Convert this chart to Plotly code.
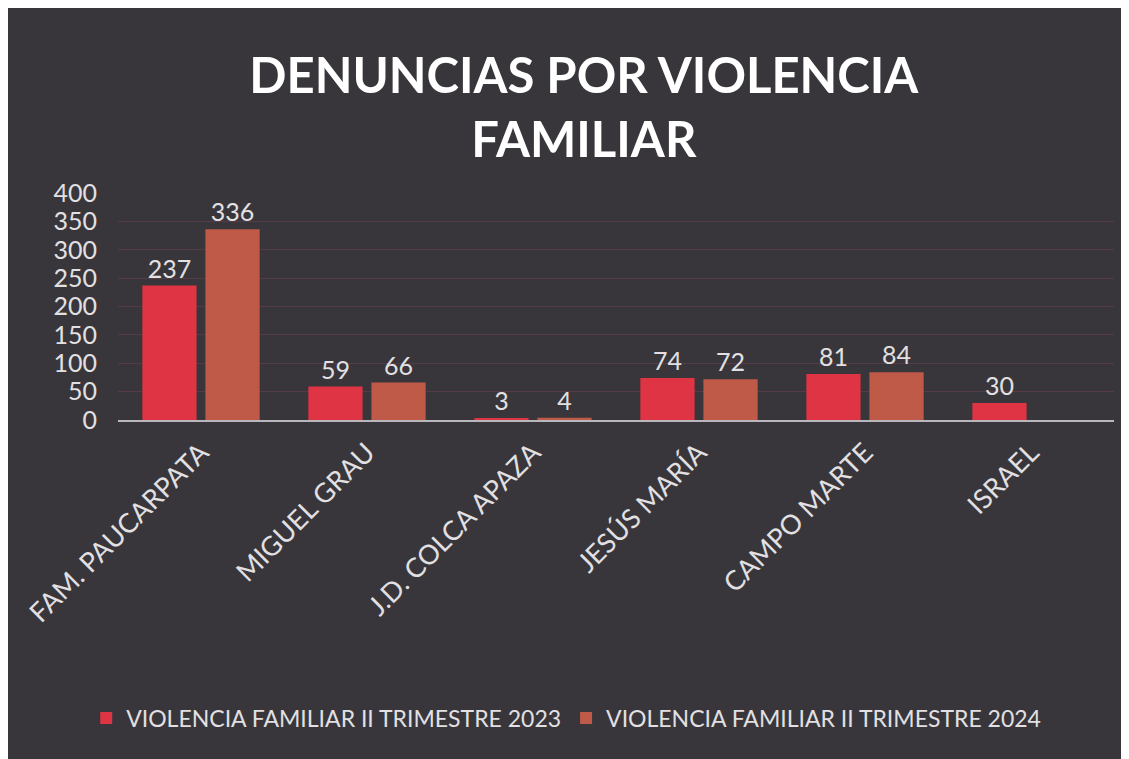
import plotly.graph_objects as go

categories = ["FAM. PAUCARPATA", "MIGUEL GRAU", "J.D. COLCA APAZA", "JESÚS MARÍA", "CAMPO MARTE", "ISRAEL"]
v2023 = [237, 59, 3, 74, 81, 30]
v2024 = [336, 66, 4, 72, 84, None]
series_names = ["VIOLENCIA FAMILIAR II TRIMESTRE 2023", "VIOLENCIA FAMILIAR II TRIMESTRE 2024"]
y_ticks = [0, 50, 100, 150, 200, 250, 300, 350, 400]

BG = "#38363b"
TXT = "#e2e0e2"
FONT = "Lato"

fig = go.Figure()
fig.add_trace(go.Bar(
    x=categories, y=v2023, name=series_names[0],
    marker=dict(color="#de3443", line=dict(width=0)),
    text=v2023, textposition="outside", cliponaxis=False,
    textfont=dict(size=25, color=TXT, family=FONT),
))
fig.add_trace(go.Bar(
    x=categories, y=v2024, name=series_names[1],
    marker=dict(color="#c05a48", line=dict(width=0)),
    text=[("" if v is None else v) for v in v2024], textposition="outside", cliponaxis=False,
    textfont=dict(size=25, color=TXT, family=FONT),
))

fig.update_layout(
    width=1129, height=759,
    paper_bgcolor=BG, plot_bgcolor=BG,
    margin=dict(l=110, r=23, t=185, b=347),
    barmode="group", bargap=0.24, bargroupgap=0.14,
    title=dict(
        text="<b>DENUNCIAS POR VIOLENCIA<br>FAMILIAR</b>",
        x=0.51, xanchor="center", y=0.888, yanchor="middle",
        font=dict(size=49, color="#ffffff", family=FONT),
    ),
    font=dict(family=FONT, color=TXT),
    showlegend=True,
    legend=dict(
        orientation="h", x=0.45, xanchor="center", y=-1.313, yanchor="middle",
        font=dict(size=23, color=TXT, family=FONT),
        bgcolor="rgba(0,0,0,0)", itemwidth=30, traceorder="normal",
    ),
    xaxis=dict(
        tickangle=-45, tickfont=dict(size=27, color=TXT, family=FONT),
        showline=True, linecolor="#b9b7bd", linewidth=2, showgrid=False,
        ticks="", ticklabelstandoff=4,
    ),
    yaxis=dict(
        range=[0, 400], tickvals=y_ticks, tickfont=dict(size=25, color=TXT, family=FONT),
        showgrid=True, gridcolor="rgba(140,70,90,0.35)", gridwidth=1,
        zeroline=False, showline=False, ticks="", ticklabelstandoff=20,
    ),
)

fig.write_html("out.html")
